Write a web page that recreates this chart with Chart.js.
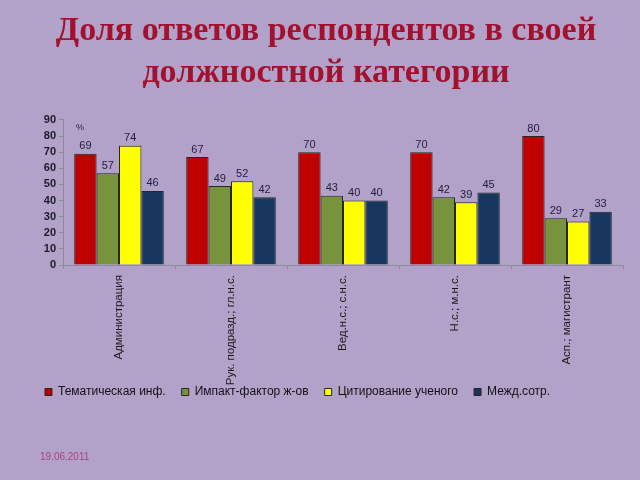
<!DOCTYPE html>
<html><head><meta charset="utf-8">
<script src="https://cdn.jsdelivr.net/npm/chart.js@4/dist/chart.umd.min.js"></script>
<style>
html,body{margin:0;padding:0;background:#B2A1C8;}
#wrap{position:relative;width:640px;height:480px;}
#date{position:absolute;left:40px;top:451px;font:10px "Liberation Sans",Arial,sans-serif;color:#B0407A;}
</style></head>
<body>
<div id="wrap"><canvas id="c" width="640" height="480"></canvas><div id="date">19.06.2011</div></div>
<script>
const categories = ["Администрация", "Рук. подразд.; гл.н.с.", "Вед.н.с.; с.н.с.", "Н.с.; м.н.с.", "Асп.; магистрант"];
const thematic = [69, 67, 70, 70, 80];
const impact = [57, 49, 43, 42, 29];
const citation = [74, 52, 40, 39, 27];
const intl = [46, 42, 40, 45, 33];
const seriesNames = ["Тематическая инф.", "Импакт-фактор ж-ов", "Цитирование ученого", "Межд.сотр."];
const yTicks = [0, 10, 20, 30, 40, 50, 60, 70, 80, 90];

const valueLabels = {
  id: 'valueLabels',
  afterDatasetsDraw(chart) {
    const ctx = chart.ctx;
    ctx.save();
    ctx.font = '11px "Liberation Sans", Arial, sans-serif';
    ctx.fillStyle = '#22223a';
    ctx.textAlign = 'center';
    ctx.textBaseline = 'bottom';
    chart.data.datasets.forEach((ds, i) => {
      const meta = chart.getDatasetMeta(i);
      meta.data.forEach((bar, j) => {
        ctx.fillText(String(ds.data[j]), bar.x, bar.y - 2);
      });
    });
    const a = chart.chartArea;
    ctx.font = '9px "Liberation Sans", Arial, sans-serif';
    ctx.textAlign = 'left';
    ctx.textBaseline = 'top';
    ctx.fillText('%', a.left + 13, a.top + 3);
    ctx.restore();
  }
};

const mk = (label, data, color) => ({label, data, backgroundColor: color, borderColor: '#262626', borderWidth: 1});

new Chart(document.getElementById('c'), {
  type: 'bar',
  data: {
    labels: categories,
    datasets: [
      mk(seriesNames[0], thematic, '#C00000'),
      mk(seriesNames[1], impact, '#77933C'),
      mk(seriesNames[2], citation, '#FFFF00'),
      mk(seriesNames[3], intl, '#17375E')
    ]
  },
  options: {
    responsive: false,
    animation: false,
    layout: {padding: {left: 29, right: 17, top: 0, bottom: 72}},
    datasets: {bar: {categoryPercentage: 0.8, barPercentage: 1.0}},
    plugins: {
      title: {
        display: true,
        text: ['Доля ответов респондентов в своей', 'должностной категории'],
        color: '#A3112E',
        font: {family: '"Liberation Serif", "DejaVu Serif", serif', size: 34, weight: 'bold', lineHeight: 1.235},
        padding: {top: 10, bottom: 26}
      },
      legend: {
        position: 'bottom',
        align: 'start',
        labels: {
          boxWidth: 7, boxHeight: 7, padding: 16, color: '#111',
          font: {family: '"Liberation Sans", Arial, sans-serif', size: 12}
        }
      },
      tooltip: {enabled: false}
    },
    scales: {
      x: {
        afterFit(scale) { scale.height = 105; scale._computeLabelArea = () => undefined; },
        grid: {display: true, drawOnChartArea: false, offset: true, tickLength: 4, color: '#8a8a9a'},
        border: {color: '#8a8a9a'},
        ticks: {
          color: '#1a1a1a', maxRotation: 90, minRotation: 90, padding: 6, autoSkip: false,
          font: {family: '"Liberation Sans", Arial, sans-serif', size: 11.5}
        }
      },
      y: {
        min: 0, max: 90,
        afterBuildTicks(scale) { scale.ticks = yTicks.map(v => ({value: v})); },
        afterFit(scale) { scale.width = 34; },
        grid: {display: true, drawOnChartArea: false, tickLength: 4, color: '#8a8a9a'},
        border: {color: '#8a8a9a'},
        ticks: {
          color: '#1a1a2a', padding: 3, autoSkip: false,
          font: {family: '"Liberation Sans", Arial, sans-serif', size: 11, weight: 'bold'}
        }
      }
    }
  },
  plugins: [valueLabels]
});
</script>
</body></html>
